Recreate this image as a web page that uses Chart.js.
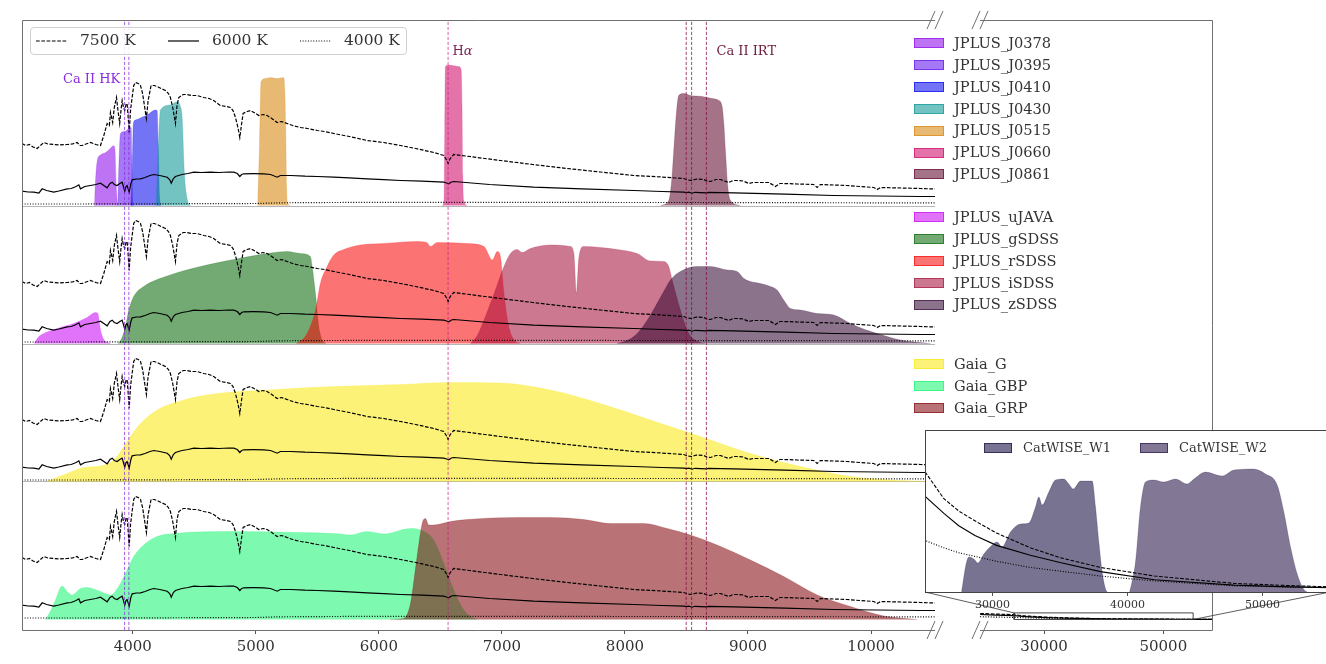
<!DOCTYPE html>
<html>
<head>
<meta charset="utf-8">
<title>Filters and model spectra</title>
<script src="https://cdn.jsdelivr.net/npm/chart.js"></script>
<style>
  html, body { margin: 0; padding: 0; background: #fff; overflow: hidden; }
  #wrap { position: relative; width: 1326px; height: 664px; overflow: hidden; font-family: 'DejaVu Serif', serif; }
  canvas { position: absolute; left: 0; top: 0; }
  .t { position: absolute; white-space: nowrap; line-height: 1; color: #333; }
  .sw { position: absolute; box-sizing: border-box; border: 1px solid; }
  #topLegend { position: absolute; left: 30px; top: 27px; width: 377px; height: 28px; box-sizing: border-box;
               border: 1px solid #d0d0d0; border-radius: 4px; background: rgba(255,255,255,0.85); }
</style>
</head>
<body>
<div id="wrap">
  <canvas id="cLeft" width="1326" height="664"></canvas>
  <canvas id="cRight" width="1326" height="664"></canvas>
  <canvas id="cInset" width="1340" height="664"></canvas>
  <div id="topLegend"></div>
  <svg id="handles" width="1326" height="664" style="position:absolute;left:0;top:0"></svg>
  <div id="labels"></div>
</div>
<script>
// ---- axis ticks (Angstrom) ----
const ticksLeft = [4000, 5000, 6000, 7000, 8000, 9000, 10000];
const ticksRight = [30000, 50000];
const ticksInset = [30000, 40000, 50000];

// ---- spectral lines ----
const caHK = [3933.7, 3968.5];
const hAlpha = [6562.8];
const caIRT = [8498, 8542, 8662];

// ---- model spectra (normalised flux) ----
const wave7500 = [3100, 3130, 3160, 3190, 3223, 3250, 3277, 3310, 3358, 3400, 3467, 3510, 3548, 3570, 3589, 3620, 3656, 3700, 3738, 3765,
  3792, 3810, 3819, 3828, 3837, 3850, 3868, 3880, 3894, 3905, 3914, 3925, 3935, 3945, 3954, 3962, 3971, 3982, 3995, 4008,
  4022, 4045, 4063, 4080, 4095, 4111, 4125, 4149, 4175, 4198, 4230, 4266, 4290, 4306, 4325, 4347, 4360, 4374, 4410, 4442,
  4480, 4523, 4577, 4620, 4658, 4690, 4713, 4760, 4794, 4815, 4835, 4855, 4870, 4885, 4897, 4930, 4957, 5000, 5024, 5060,
  5092, 5130, 5174, 5210, 5255, 5300, 5363, 5420, 5499, 5560, 5634, 5760, 5905, 6040, 6176, 6300, 6447, 6528, 6548, 6563,
  6580, 6609, 6800, 6988, 7250, 7530, 7800, 8072, 8300, 8478, 8510, 8542, 8580, 8641, 8665, 8695, 8740, 8776, 8810, 8844,
  8880, 8912, 8960, 9006, 9040, 9101, 9170, 9223, 9260, 9290, 9400, 9534, 9562, 9589, 9800, 10022, 10050, 10077, 10250, 10402, 10520];
const flux7500 = [0.62, 0.60, 0.61, 0.585, 0.57, 0.60, 0.63, 0.615, 0.61, 0.605, 0.61, 0.615, 0.63, 0.60, 0.60, 0.615, 0.63, 0.61, 0.60, 0.70,
  0.82, 0.80, 0.93, 0.88, 0.83, 0.98, 1.08, 0.95, 0.82, 0.96, 1.05, 0.98, 0.95, 1.01, 1.02, 0.90, 0.73, 0.95, 1.08, 1.20,
  1.23, 1.22, 1.20, 1.12, 1.00, 0.87, 1.05, 1.20, 1.20, 1.19, 1.17, 1.15, 1.12, 1.08, 0.98, 0.82, 1.00, 1.08, 1.11, 1.11,
  1.10, 1.10, 1.08, 1.07, 1.05, 1.02, 1.00, 0.99, 0.98, 0.95, 0.88, 0.78, 0.68, 0.82, 0.92, 0.94, 0.95, 0.92, 0.90, 0.91,
  0.90, 0.87, 0.83, 0.84, 0.82, 0.80, 0.78, 0.77, 0.75, 0.74, 0.72, 0.69, 0.65, 0.63, 0.60, 0.57, 0.53, 0.50, 0.46, 0.42,
  0.47, 0.51, 0.48, 0.45, 0.41, 0.37, 0.335, 0.30, 0.285, 0.27, 0.255, 0.25, 0.265, 0.26, 0.245, 0.24, 0.26, 0.26, 0.245, 0.23,
  0.25, 0.25, 0.245, 0.22, 0.23, 0.23, 0.23, 0.19, 0.22, 0.22, 0.215, 0.21, 0.18, 0.21, 0.20, 0.18, 0.16, 0.18, 0.175, 0.17, 0.165];

const wave6000 = [3100, 3150, 3196, 3237, 3264, 3300, 3358, 3400, 3467, 3500, 3540, 3562, 3575, 3610, 3656, 3700, 3738, 3765, 3792, 3815,
  3833, 3850, 3873, 3895, 3914, 3935, 3945, 3954, 3962, 3971, 3985, 3995, 4030, 4063, 4100, 4140, 4171, 4220, 4280, 4300,
  4313, 4330, 4347, 4400, 4450, 4497, 4560, 4631, 4700, 4780, 4821, 4850, 4870, 4885, 4902, 4980, 5065, 5120, 5174, 5200,
  5282, 5400, 5500, 5634, 5760, 5905, 6040, 6176, 6350, 6528, 6550, 6568, 6590, 6609, 6900, 7259, 7650, 8072, 8300, 8478,
  8500, 8520, 8546, 8570, 8660, 8680, 8884, 9300, 9697, 10050, 10402, 10520];
const flux6000 = [0.143, 0.135, 0.133, 0.123, 0.167, 0.15, 0.133, 0.145, 0.167, 0.17, 0.19, 0.207, 0.167, 0.19, 0.20, 0.21, 0.223, 0.20, 0.177, 0.22,
  0.233, 0.21, 0.20, 0.22, 0.233, 0.143, 0.19, 0.20, 0.17, 0.133, 0.22, 0.257, 0.265, 0.267, 0.28, 0.30, 0.31, 0.30, 0.283, 0.26,
  0.223, 0.27, 0.29, 0.31, 0.32, 0.333, 0.33, 0.333, 0.33, 0.335, 0.333, 0.32, 0.29, 0.31, 0.317, 0.318, 0.317, 0.31, 0.283, 0.30,
  0.30, 0.293, 0.29, 0.283, 0.276, 0.267, 0.258, 0.25, 0.243, 0.233, 0.225, 0.217, 0.235, 0.24, 0.21, 0.183, 0.167, 0.15, 0.14, 0.133,
  0.128, 0.133, 0.123, 0.132, 0.127, 0.132, 0.127, 0.113, 0.10, 0.095, 0.09, 0.09];

const wave4000 = [3100, 3500, 4000, 4500, 5000, 5200, 5600, 6000, 6500, 7000, 7500, 8000, 8500, 9000, 9500, 10000, 10520];
const flux4000 = [0.015, 0.015, 0.016, 0.018, 0.02, 0.027, 0.03, 0.031, 0.031, 0.032, 0.031, 0.03, 0.03, 0.029, 0.028, 0.027, 0.026];

// infrared tail of the same spectra
const waveIR = [19300, 22000, 25000, 26400, 27500, 28700, 30300, 32800, 35000, 38000, 42000, 47900, 52000, 55000, 58200];
const fluxIR7500 = [0.060, 0.054, 0.049, 0.038, 0.033, 0.029, 0.024, 0.018, 0.014, 0.010, 0.0065, 0.0035, 0.0026, 0.0021, 0.0018];
const fluxIR6000 = [0.050, 0.044, 0.039, 0.032, 0.027, 0.023, 0.019, 0.015, 0.012, 0.0083, 0.005, 0.0028, 0.0021, 0.0018, 0.0016];
const fluxIR4000 = [0.028, 0.024, 0.021, 0.018, 0.016, 0.0145, 0.0125, 0.010, 0.0085, 0.0065, 0.0045, 0.0025, 0.002, 0.0018, 0.0016];

// ---- filter transmission curves ----
const j0378Wave = [3688, 3700, 3712, 3738, 3780, 3805, 3846, 3856, 3866, 3878, 3885];
const j0378Trans = [0, 0.30, 0.45, 0.505, 0.53, 0.555, 0.598, 0.55, 0.20, 0.01, 0];
const j0395Wave = [3878, 3890, 3900, 3935, 3968, 3987, 3993, 3998, 4003];
const j0395Trans = [0, 0.50, 0.72, 0.74, 0.77, 0.78, 0.50, 0.05, 0];
const j0410Wave = [3985, 3995, 4005, 4022, 4070, 4117, 4184, 4198, 4208, 4218, 4228];
const j0410Trans = [0, 0.30, 0.82, 0.855, 0.88, 0.905, 0.955, 0.95, 0.60, 0.10, 0];
const j0430Wave = [4190, 4205, 4225, 4306, 4361, 4385, 4401, 4420, 4440, 4455, 4470];
const j0430Trans = [0, 0.50, 0.955, 1.005, 1.038, 1.00, 0.89, 0.32, 0.08, 0.015, 0];
const j0515Wave = [5015, 5030, 5043, 5080, 5119, 5174, 5227, 5236, 5243, 5250, 5258, 5282];
const j0515Trans = [0, 0.60, 1.24, 1.27, 1.28, 1.27, 1.28, 1.15, 0.80, 0.20, 0.03, 0];
const j0660Wave = [6515, 6530, 6536, 6541, 6568, 6649, 6669, 6676, 6682, 6690, 6718];
const j0660Trans = [0, 0.05, 0.80, 1.39, 1.405, 1.39, 1.355, 1.00, 0.30, 0.05, 0];
const j0861Wave = [8289, 8356, 8380, 8397, 8420, 8437, 8478, 8532, 8627, 8709, 8763, 8790, 8805, 8817, 8835, 8858, 8939];
const j0861Trans = [0, 0.05, 0.25, 0.55, 0.95, 1.10, 1.12, 1.10, 1.09, 1.07, 1.05, 0.99, 0.80, 0.55, 0.20, 0.05, 0];

const ujavaWave = [3200, 3230, 3277, 3386, 3521, 3629, 3697, 3716, 3728, 3738, 3760, 3778, 3819];
const ujavaTrans = [0, 0.06, 0.10, 0.15, 0.20, 0.26, 0.31, 0.30, 0.22, 0.135, 0.05, 0.02, 0];
const gsdssWave = [3880, 3910, 3941, 3968, 4008, 4089, 4280, 4550, 4821, 5092, 5255, 5363, 5444, 5458, 5485, 5512, 5539, 5570];
const gsdssTrans = [0, 0.05, 0.17, 0.335, 0.47, 0.57, 0.675, 0.77, 0.84, 0.90, 0.92, 0.90, 0.87, 0.77, 0.50, 0.17, 0.035, 0];
const rsdssWave = [5330, 5380, 5417, 5485, 5525, 5580, 5634, 5715, 5851, 6040, 6311, 6390, 6420, 6474, 6718, 6855, 6922, 6963, 6988, 7017, 7056, 7110, 7150];
const rsdssTrans = [0, 0.04, 0.10, 0.33, 0.60, 0.77, 0.885, 0.94, 0.985, 1.00, 1.02, 1.01, 0.97, 1.01, 1.00, 0.97, 0.835, 0.92, 0.87, 0.50, 0.17, 0.02, 0];
const isdssWave = [6745, 6800, 6855, 6937, 7017, 7070, 7124, 7165, 7232, 7394, 7557, 7585, 7606, 7625, 7665, 7936, 8098, 8207, 8315, 8356, 8384, 8451, 8519, 8613, 8650];
const isdssTrans = [0, 0.08, 0.235, 0.50, 0.77, 0.90, 0.94, 0.91, 0.95, 0.985, 0.97, 0.90, 0.50, 0.85, 0.97, 0.94, 0.90, 0.825, 0.82, 0.77, 0.635, 0.335, 0.10, 0.01, 0];
const zsdssWave = [7936, 8050, 8125, 8200, 8261, 8320, 8370, 8451, 8587, 8695, 8831, 8912, 8966, 9020, 9101, 9182, 9236, 9290, 9345, 9426, 9562, 9697, 9833, 9950, 10050, 10239, 10483];
const zsdssTrans = [0, 0.05, 0.135, 0.27, 0.40, 0.53, 0.635, 0.72, 0.77, 0.77, 0.735, 0.72, 0.65, 0.62, 0.60, 0.57, 0.535, 0.435, 0.35, 0.335, 0.30, 0.285, 0.20, 0.14, 0.10, 0.035, 0];

const gaiaGWave = [3304, 3400, 3467, 3602, 3738, 3846, 3927, 3981, 4063, 4198, 4415, 4686, 5092, 5634, 6176, 6582, 6988, 7394, 7800, 8207, 8613, 9020, 9426, 9833, 10239, 10500];
const gaiaGTrans = [0, 0.05, 0.08, 0.14, 0.155, 0.215, 0.35, 0.45, 0.58, 0.715, 0.815, 0.88, 0.915, 0.95, 0.97, 0.99, 0.985, 0.915, 0.78, 0.615, 0.45, 0.28, 0.15, 0.05, 0.01, 0];
const gbpWave = [3290, 3330, 3372, 3426, 3467, 3507, 3575, 3629, 3738, 3819, 3886, 3954, 4008, 4089, 4198, 4333, 4821, 5363, 5634, 5769, 5905, 6040, 6257, 6338, 6446, 6528, 6609, 6690, 6772, 6800];
const gbpTrans = [0, 0.08, 0.195, 0.335, 0.28, 0.245, 0.31, 0.32, 0.28, 0.245, 0.33, 0.495, 0.63, 0.745, 0.83, 0.86, 0.88, 0.87, 0.86, 0.845, 0.88, 0.855, 0.91, 0.895, 0.795, 0.56, 0.295, 0.095, 0.01, 0];
const grpWave = [6094, 6202, 6257, 6311, 6352, 6379, 6406, 6446, 6582, 6718, 7124, 7394, 7665, 7882, 8153, 8343, 8532, 8749, 9020, 9291, 9562, 9833, 10104, 10375];
const grpTrans = [0, 0.01, 0.16, 0.63, 0.96, 1.01, 0.945, 0.945, 0.98, 1.00, 1.02, 1.02, 1.00, 0.96, 0.96, 0.91, 0.845, 0.745, 0.595, 0.43, 0.245, 0.13, 0.035, 0];

const w1Wave = [27700, 27800, 28000, 28247, 28617, 28914, 29358, 29975, 30346, 30700, 31333, 32074, 32690, 33185, 33432, 33679, 34173, 34667, 35284, 35654, 35975, 36519, 37383, 37630, 37877, 38123, 38370, 38500];
const w1Trans = [0, 0.08, 0.25, 0.35, 0.33, 0.29, 0.38, 0.47, 0.50, 0.45, 0.60, 0.68, 0.69, 0.85, 0.95, 0.87, 1.00, 1.12, 1.13, 1.08, 1.03, 1.11, 1.11, 0.85, 0.50, 0.20, 0.03, 0];
const w2Wave = [40150, 40300, 40593, 40963, 41333, 41950, 42691, 43556, 44420, 44914, 45778, 47012, 47877, 49358, 50222, 51086, 51580, 52074, 52568, 53037, 53300];
const w2Trans = [0, 0.08, 0.30, 0.85, 1.10, 1.12, 1.10, 1.13, 1.08, 1.13, 1.20, 1.16, 1.22, 1.23, 1.18, 1.07, 0.80, 0.45, 0.18, 0.03, 0];

// zoomed window of the inset (wavelength, flux above the bottom panel)
const insetX = [25000, 55000];
const insetY = [0, 0.066];

// ---- layout / styles ----
const FONT = "'DejaVu Serif', serif";
const SPINE = '#707070';
const base = [4.245, 2.865, 1.485, 0.105];   // zero level of each panel
const yTop = 6.10;
const FILL_A = 0.55;
const insetFilterScale = 0.0407;

const filterPanels = [
  [
    { name: 'JPLUS_J0378', wave: j0378Wave, trans: j0378Trans, rgb: [137, 0, 237] },
    { name: 'JPLUS_J0395', wave: j0395Wave, trans: j0395Trans, rgb: [91, 10, 237] },
    { name: 'JPLUS_J0410', wave: j0410Wave, trans: j0410Trans, rgb: [0, 0, 237] },
    { name: 'JPLUS_J0430', wave: j0430Wave, trans: j0430Trans, rgb: [0, 146, 146] },
    { name: 'JPLUS_J0515', wave: j0515Wave, trans: j0515Trans, rgb: [213, 128, 0] },
    { name: 'JPLUS_J0660', wave: j0660Wave, trans: j0660Trans, rgb: [206, 0, 100] },
    { name: 'JPLUS_J0861', wave: j0861Wave, trans: j0861Trans, rgb: [91, 0, 37] }
  ],
  [
    { name: 'JPLUS_uJAVA', wave: ujavaWave, trans: ujavaTrans, rgb: [200, 0, 246] },
    { name: 'JPLUS_gSDSS', wave: gsdssWave, trans: gsdssTrans, rgb: [0, 100, 0] },
    { name: 'JPLUS_rSDSS', wave: rsdssWave, trans: rsdssTrans, rgb: [250, 0, 0] },
    { name: 'JPLUS_iSDSS', wave: isdssWave, trans: isdssTrans, rgb: [164, 10, 55] },
    { name: 'JPLUS_zSDSS', wave: zsdssWave, trans: zsdssTrans, rgb: [46, 0, 46] }
  ],
  [
    { name: 'Gaia_G', wave: gaiaGWave, trans: gaiaGTrans, rgb: [250, 231, 10] }
  ],
  [
    { name: 'Gaia_GBP', wave: gbpWave, trans: gbpTrans, rgb: [19, 246, 110] },
    { name: 'Gaia_GRP', wave: grpWave, trans: grpTrans, rgb: [128, 0, 6] }
  ]
];
const wiseFilters = [
  { name: 'CatWISE_W1', wave: w1Wave, trans: w1Trans, rgb: [10, 0, 55] },
  { name: 'CatWISE_W2', wave: w2Wave, trans: w2Trans, rgb: [28, 10, 64] }
];

const spectra = [
  { label: '7500 K', wave: wave7500, flux: flux7500, ir: fluxIR7500, dash: [3.7, 1.6] },
  { label: '6000 K', wave: wave6000, flux: flux6000, ir: fluxIR6000, dash: [] },
  { label: '4000 K', wave: wave4000, flux: flux4000, ir: fluxIR4000, dash: [1, 1.65] }
];

const markers = [
  { waves: caHK, color: 'rgba(138,43,226,0.85)' },
  { waves: hAlpha, color: 'rgba(199,21,133,0.75)' },
  { waves: caIRT, color: 'rgba(128,0,64,0.8)' }
];

const rgba = (c, a) => `rgba(${c[0]},${c[1]},${c[2]},${a})`;
const pts = (xs, ys, off, k) => xs.map((x, i) => ({ x: x, y: off + ys[i] * k }));

function filterSet(f, off, k, order) {
  return {
    data: pts(f.wave, f.trans, off, k),
    fill: { value: off },
    backgroundColor: rgba(f.rgb, FILL_A),
    borderColor: rgba(f.rgb, 0.35),
    borderWidth: 0.6,
    pointRadius: 0,
    cubicInterpolationMode: 'monotone',
    order: order
  };
}
function lineSet(data, dash, width, color, order) {
  return { data: data, borderColor: color, borderWidth: width, borderDash: dash,
           pointRadius: 0, fill: false, tension: 0, order: order };
}

function xAxis(min, max, ticks, size, height, pad) {
  return {
    type: 'linear', min: min, max: max,
    afterBuildTicks: s => { s.ticks = ticks.map(v => ({ value: v })); },
    afterFit: s => { s.height = height; },
    ticks: { autoSkip: false, maxRotation: 0, color: '#333', padding: pad,
             font: { family: FONT, size: size }, callback: v => String(v) },
    grid: { drawOnChartArea: false, drawTicks: true, tickLength: 4, color: '#555' },
    border: { display: false }
  };
}

function breakMark(ctx, cx, cy) {
  ctx.beginPath();
  [-4, 4].forEach(dx => { ctx.moveTo(cx + dx - 4, cy + 9); ctx.lineTo(cx + dx + 4, cy - 9); });
  ctx.stroke();
}

const commonOpts = {
  responsive: false, animation: false, events: [],
  plugins: { legend: { display: false }, tooltip: { enabled: false } }
};

// ---- left (optical) part ----
const leftSets = [];
filterPanels.forEach((list, p) => list.forEach(f => leftSets.push(filterSet(f, base[p], 1, 100 - leftSets.length))));
base.forEach(b => spectra.forEach(s => leftSets.push(lineSet(pts(s.wave, s.flux, b, 1), s.dash, 1.2, '#000', 2))));
markers.forEach(m => m.waves.forEach(w =>
  leftSets.push(lineSet([{ x: w, y: 0 }, { x: w, y: yTop }], [3.2, 1.8], 0.9, m.color, 1))));

const leftDeco = {
  id: 'leftDeco',
  beforeDatasetsDraw(chart) {
    const { ctx, chartArea: a, scales: { y } } = chart;
    ctx.save();
    ctx.strokeStyle = '#b5b5b5'; ctx.lineWidth = 1;
    base.slice(0, 3).forEach(b => {
      const py = Math.round(y.getPixelForValue(b)) + 0.5;
      ctx.beginPath(); ctx.moveTo(a.left, py); ctx.lineTo(a.right, py); ctx.stroke();
    });
    ctx.restore();
  },
  afterDraw(chart) {
    const { ctx, chartArea: a } = chart;
    ctx.save();
    ctx.strokeStyle = SPINE; ctx.lineWidth = 1;
    ctx.beginPath();
    ctx.moveTo(a.right, a.top + 0.5); ctx.lineTo(a.left + 0.5, a.top + 0.5);
    ctx.lineTo(a.left + 0.5, a.bottom + 0.5); ctx.lineTo(a.right, a.bottom + 0.5);
    ctx.stroke();
    breakMark(ctx, a.right, a.top);
    breakMark(ctx, a.right, a.bottom);
    ctx.restore();
  }
};

new Chart(document.getElementById('cLeft'), {
  type: 'line',
  data: { datasets: leftSets },
  options: Object.assign({}, commonOpts, {
    layout: { autoPadding: false, padding: { left: 22, top: 20, right: 391, bottom: 0 } },
    scales: { x: xAxis(3100, 10520, ticksLeft, 15, 34, 4), y: { display: false, min: 0, max: yTop } }
  }),
  plugins: [leftDeco]
});

// ---- right (infrared) part ----
const rightSets = spectra.map(s => lineSet(pts(waveIR, s.ir, base[3], 1), s.dash, 1.2, '#000', 2));
rightSets.push(lineSet([
  { x: insetX[0], y: base[3] + insetY[0] }, { x: insetX[1], y: base[3] + insetY[0] },
  { x: insetX[1], y: base[3] + insetY[1] }, { x: insetX[0], y: base[3] + insetY[1] },
  { x: insetX[0], y: base[3] + insetY[0] }], [], 0.9, '#333', 1));

const rightDeco = {
  id: 'rightDeco',
  afterDraw(chart) {
    const { ctx, chartArea: a } = chart;
    ctx.save();
    ctx.strokeStyle = SPINE; ctx.lineWidth = 1;
    ctx.beginPath();
    ctx.moveTo(a.left, a.top + 0.5); ctx.lineTo(a.right + 0.5, a.top + 0.5);
    ctx.lineTo(a.right + 0.5, a.bottom + 0.5); ctx.lineTo(a.left, a.bottom + 0.5);
    ctx.stroke();
    breakMark(ctx, a.left, a.top);
    breakMark(ctx, a.left, a.bottom);
    ctx.restore();
  }
};

const rightChart = new Chart(document.getElementById('cRight'), {
  type: 'line',
  data: { datasets: rightSets },
  options: Object.assign({}, commonOpts, {
    layout: { autoPadding: false, padding: { left: 980, top: 20, right: 114, bottom: 0 } },
    scales: { x: xAxis(19270, 58160, ticksRight, 15, 34, 4), y: { display: false, min: 0, max: yTop } }
  }),
  plugins: [rightDeco]
});

// ---- inset ----
const insetSets = wiseFilters.map((f, i) => filterSet(f, 0, insetFilterScale, 10 - i));
spectra.forEach(s => insetSets.push(lineSet(pts(waveIR, s.ir, 0, 1), s.dash, 1.1, '#000', 2)));

const insetDeco = {
  id: 'insetDeco',
  beforeDraw(chart) {
    const { ctx, chartArea: a } = chart;
    ctx.save(); ctx.fillStyle = '#fff';
    ctx.fillRect(a.left, a.top, a.right - a.left, a.bottom - a.top);
    ctx.restore();
  },
  afterDraw(chart) {
    const { ctx, chartArea: a } = chart;
    const rx = rightChart.scales.x, ry = rightChart.scales.y;
    ctx.save();
    ctx.strokeStyle = '#444'; ctx.lineWidth = 1;
    ctx.strokeRect(a.left + 0.5, a.top + 0.5, a.right - a.left, a.bottom - a.top);
    ctx.strokeStyle = '#333'; ctx.lineWidth = 0.8;
    ctx.beginPath();
    ctx.moveTo(a.left, a.bottom);
    ctx.lineTo(rx.getPixelForValue(insetX[0]), ry.getPixelForValue(base[3] + insetY[1]));
    ctx.moveTo(a.right, a.bottom);
    ctx.lineTo(rx.getPixelForValue(insetX[1]), ry.getPixelForValue(base[3] + insetY[0]));
    ctx.stroke();
    ctx.restore();
  }
};

new Chart(document.getElementById('cInset'), {
  type: 'line',
  data: { datasets: insetSets },
  options: Object.assign({}, commonOpts, {
    layout: { autoPadding: false, padding: { left: 925, top: 430, right: 10, bottom: 0 } },
    scales: { x: xAxis(insetX[0], insetX[1], ticksInset, 11, 72, 3), y: { display: false, min: insetY[0], max: insetY[1] } }
  }),
  plugins: [insetDeco]
});

// ---- text: legends and line labels ----
const labels = document.getElementById('labels');
function addText(html, left, cy, size, color) {
  const d = document.createElement('div');
  d.className = 't';
  d.innerHTML = html;
  d.style.left = left + 'px';
  d.style.top = (cy - size * 0.5) + 'px';
  d.style.fontSize = size + 'px';
  if (color) d.style.color = color;
  labels.appendChild(d);
}
function addSwatch(f, left, cy, w) {
  const s = document.createElement('div');
  s.className = 'sw';
  s.style.left = left + 'px'; s.style.top = (cy - 5) + 'px';
  s.style.width = w + 'px'; s.style.height = '10px';
  s.style.background = rgba(f.rgb, FILL_A);
  s.style.borderColor = rgba(f.rgb, 0.6);
  labels.appendChild(s);
}

const allFilters = filterPanels.flat();
const byName = n => allFilters.find(f => f.name === n);
const legendGroups = [
  { cy: 43.3, names: filterPanels[0].map(f => f.name) },
  { cy: 217.3, names: filterPanels[1].map(f => f.name) },
  { cy: 364.3, names: ['Gaia_G', 'Gaia_GBP', 'Gaia_GRP'] }
];
legendGroups.forEach(g => g.names.forEach((n, i) => {
  const cy = g.cy + i * 21.85;
  addSwatch(byName(n), 914, cy, 30);
  addText(n, 954, cy, 14.6);
}));

wiseFilters.forEach((f, i) => {
  const x0 = i === 0 ? 984 : 1140;
  addSwatch(f, x0, 447.7, 28);
  addText(f.name, x0 + 39, 447.7, 13);
});

addText('Ca II HK', 63, 78, 13, '#8a2be2');
addText('H<i>α</i>', 452.5, 50.5, 13, '#7e1f55');
addText('Ca II IRT', 716.5, 50.5, 13, '#6e1a3c');

// top-left legend for the spectra
const handles = document.getElementById('handles');
const handleX = [36, 168, 300];
spectra.forEach((s, i) => {
  const ln = document.createElementNS('http://www.w3.org/2000/svg', 'line');
  ln.setAttribute('x1', handleX[i]); ln.setAttribute('x2', handleX[i] + 31);
  ln.setAttribute('y1', 41); ln.setAttribute('y2', 41);
  ln.setAttribute('stroke', '#000'); ln.setAttribute('stroke-width', 1.2);
  if (s.dash.length) ln.setAttribute('stroke-dasharray', s.dash.join(','));
  handles.appendChild(ln);
  addText(s.label, handleX[i] + 44, 41, 15.5);
});
</script>
</body>
</html>
